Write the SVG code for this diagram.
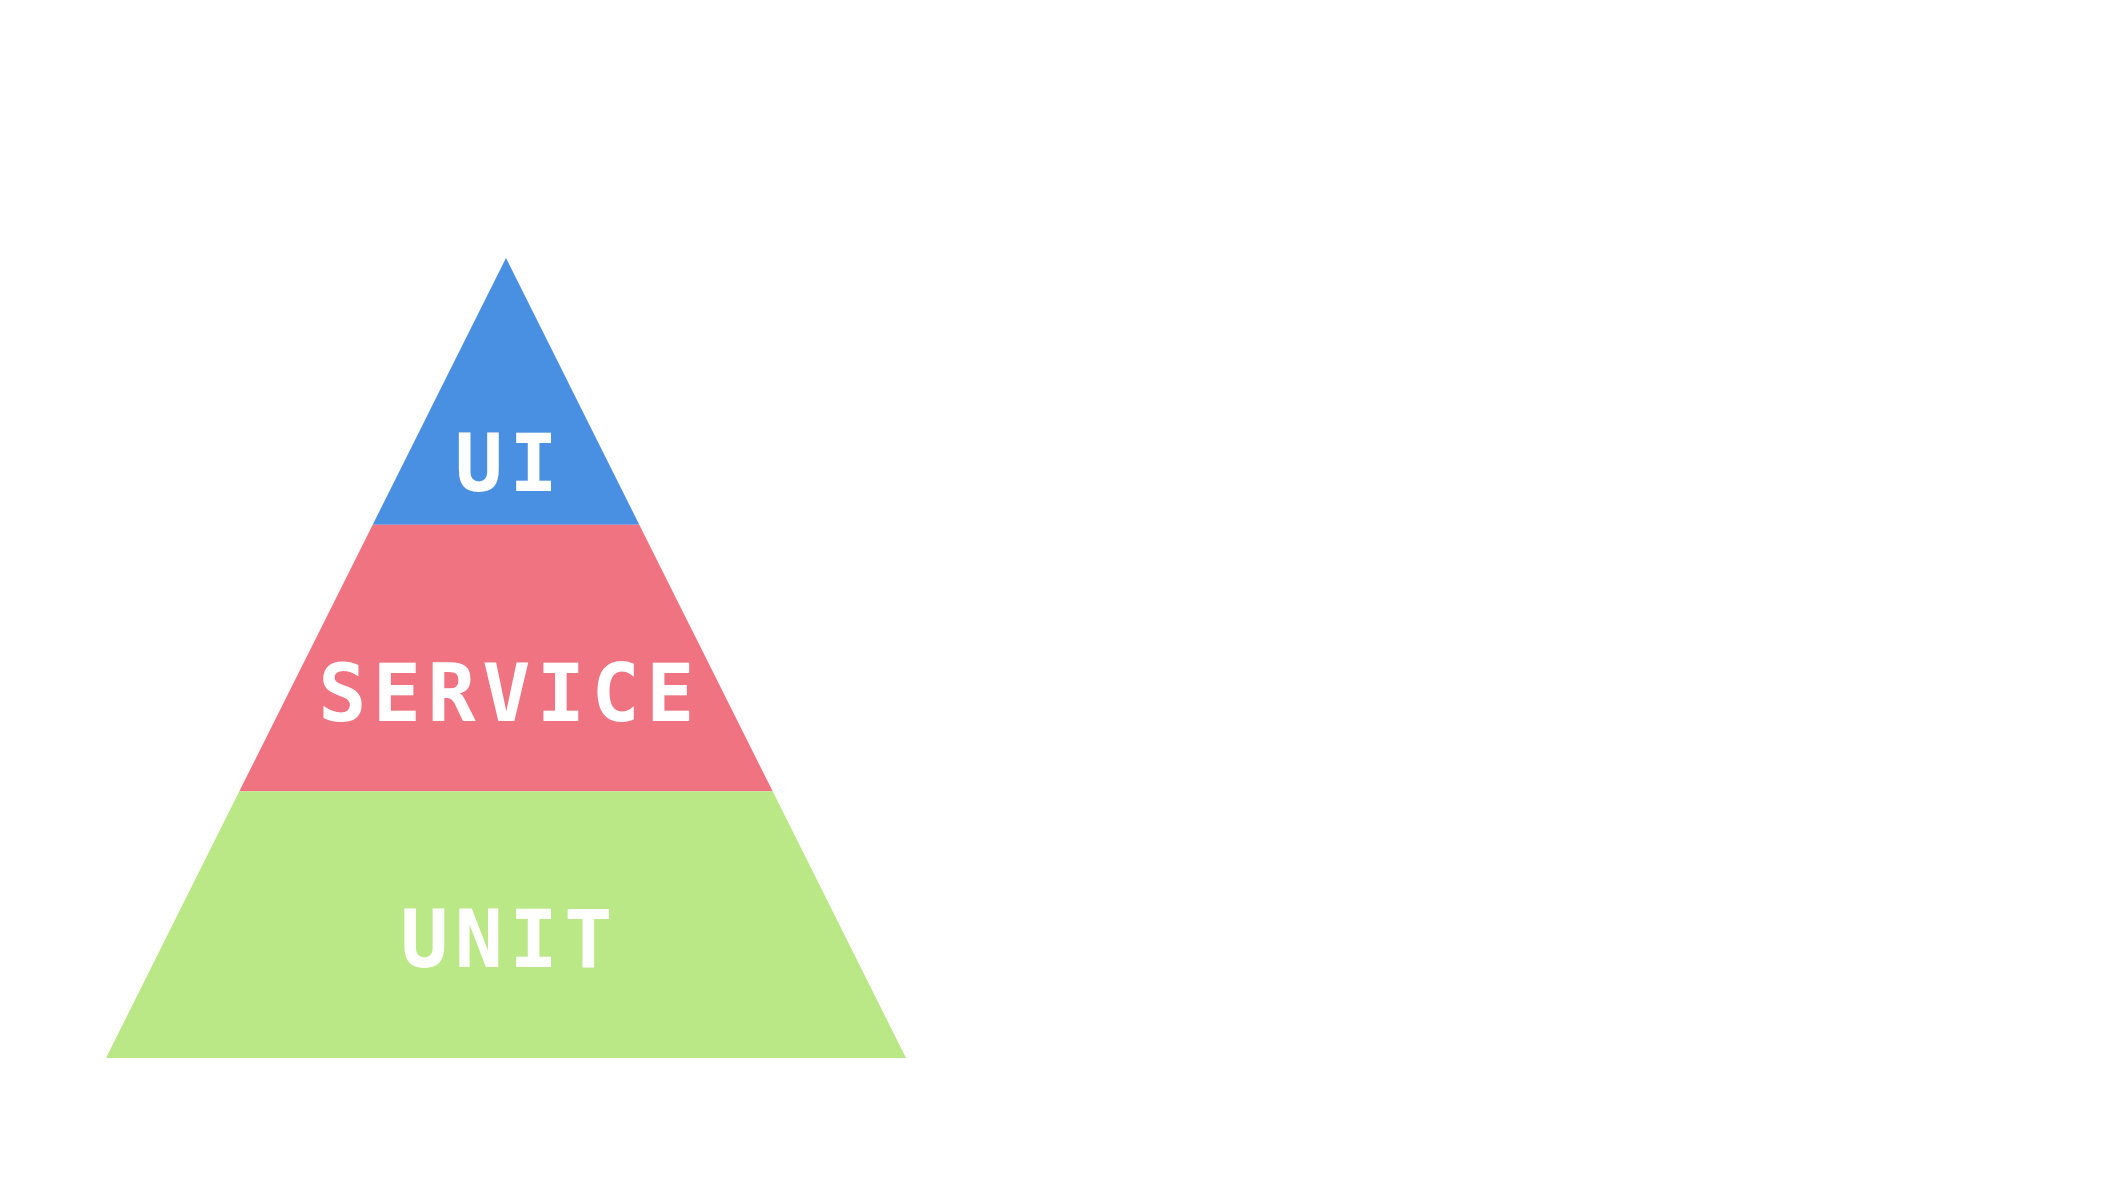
<svg xmlns="http://www.w3.org/2000/svg" width="2120" height="1200" viewBox="0 0 2120 1200">
<style>
.lbl{font-family:"DejaVu Sans Mono","Liberation Mono",monospace;font-weight:bold;font-size:80px;fill:#ffffff;text-anchor:middle;letter-spacing:6.5px}
</style>
<rect width="2120" height="1200" fill="#ffffff"/>
<g id="ui">
<polygon points="506,258 639.3,524.7 372.7,524.7" fill="#4a90e2"/>
<text class="lbl" x="509.5" y="491">UI</text>
</g>
<g id="service">
<polygon points="372.7,524.7 639.3,524.7 772.7,791.3 239.3,791.3" fill="#f07381"/>
<text class="lbl" x="509.5" y="721">SERVICE</text>
</g>
<g id="unit">
<polygon points="239.3,791.3 772.7,791.3 906,1058 106,1058" fill="#bbe887"/>
<text class="lbl" x="509.5" y="967">UNIT</text>
</g>
<g id="connectors"></g>
</svg>
